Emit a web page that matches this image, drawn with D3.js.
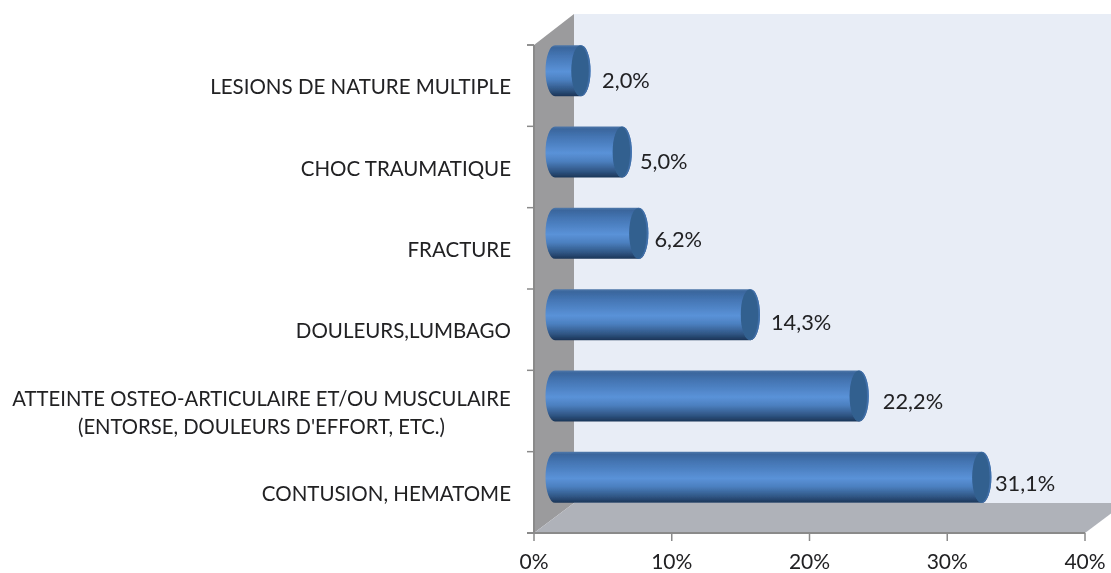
<!DOCTYPE html>
<html><head><meta charset="utf-8">
<script src="https://cdn.jsdelivr.net/npm/d3@7"></script>
<style>html,body{margin:0;background:#fff;overflow:hidden}svg{display:block}text{font-family:Lato,"Open Sans",sans-serif;fill:#202024}</style>
</head><body><svg id="c" width="1111" height="573"></svg>
<script>
const categories=["CONTUSION, HEMATOME","ATTEINTE OSTEO-ARTICULAIRE ET/OU MUSCULAIRE|(ENTORSE, DOULEURS D'EFFORT, ETC.)","DOULEURS,LUMBAGO","FRACTURE","CHOC TRAUMATIQUE","LESIONS DE NATURE MULTIPLE"];
const values=[31.1,22.2,14.3,6.2,5.0,2.0];
const labels=["31,1%","22,2%","14,3%","6,2%","5,0%","2,0%"];
const xTicks=[0,10,20,30,40];
const labelShiftX=[12.5,23,20,15,17,20.5];
const labelShiftY=[14,12.5,15,14,16.5,17];
const W=1111,H=573,dx=40,dy=30;
const x=d3.scaleLinear().domain([0,40]).range([534,1085]);
const y=d3.scaleBand().domain(categories).range([533,45]);
const svg=d3.select("#c");
const defs=svg.append("defs");
const g=defs.append("linearGradient").attr("id","bar").attr("x1",0).attr("x2",0).attr("y1",0).attr("y2",1);
[[0,"#4f78aa"],[.05,"#3a669d"],[.2,"#4475b3"],[.52,"#5a92d8"],[.68,"#4c80c0"],[.88,"#2f5583"],[1,"#1b3557"]].forEach(s=>g.append("stop").attr("offset",s[0]).attr("stop-color",s[1]));
const blur=defs.append("filter").attr("id","soft").attr("x","-5%").attr("y","-5%").attr("width","110%").attr("height","110%");
blur.append("feGaussianBlur").attr("stdDeviation",0.55);
const root=svg.append("g").attr("filter","url(#soft)");
const poly=p=>p.map(d=>d.join(",")).join(" ");
const x0=x(0),x1=x(40),yb=533,yt=45;
root.append("polygon").attr("points",poly([[x0+dx,yt-dy-1],[W+10,yt-dy-1],[W+10,yb-dy],[x0+dx,yb-dy]])).attr("fill","#e8edf6");
root.append("polygon").attr("points",poly([[x0,yt],[x0+dx,yt-dy-1],[x0+dx,yb-dy],[x0,yb]])).attr("fill","#9b9b9d");
root.append("polygon").attr("points",poly([[x0,yb],[x0+dx,yb-dy],[x1+dx,yb-dy],[x1,yb]])).attr("fill","#afb2b9");
const axisC="#8a8a8a";
root.append("line").attr("x1",x0).attr("x2",x0).attr("y1",yt).attr("y2",yb).attr("stroke",axisC).attr("stroke-width",2);
root.append("line").attr("x1",527).attr("x2",x1).attr("y1",yb).attr("y2",yb).attr("stroke",axisC).attr("stroke-width",2);
const edges=categories.map(k=>y(k)).concat([yt]);
root.selectAll(".yt").data(edges).join("line").attr("x1",527).attr("x2",x0).attr("y1",d=>d).attr("y2",d=>d).attr("stroke",axisC).attr("stroke-width",1.5);
root.selectAll(".xt").data(xTicks).join("line").attr("x1",d=>x(d)).attr("x2",d=>x(d)).attr("y1",yb).attr("y2",yb+8).attr("stroke",axisC).attr("stroke-width",1.5);
root.selectAll(".xl").data(xTicks).join("text").attr("x",d=>Math.min(x(d),1088)).attr("y",569).attr("text-anchor","middle").attr("font-size",21).text(d=>d+"%");
const bh=51,rx=9.5,rc=9.5;
const bars=root.selectAll(".b").data(categories).join("g");
bars.each(function(k,i){
  const s=d3.select(this),cy=y(k)+y.bandwidth()/2-dy/2,xe=x(values[i])+dx/2,x2=xe-.5,xs=x0+dx/2+1;
  const t=cy-bh/2,b=cy+bh/2;
  s.append("path").attr("d",`M${xs},${t}L${x2},${t}A${rc},${bh/2} 0 0 1 ${x2},${b}L${xs},${b}A${rx},${bh/2} 0 0 1 ${xs},${t}Z`).attr("fill","url(#bar)");
  s.append("ellipse").attr("cx",x2).attr("cy",cy).attr("rx",rc).attr("ry",bh/2).attr("fill","#406fa9");
  s.append("ellipse").attr("cx",x2-1).attr("cy",cy).attr("rx",rc-.8).attr("ry",bh/2-.3).attr("fill","#33608f");
  s.append("text").attr("x",xe+labelShiftX[i]).attr("y",cy+labelShiftY[i]).attr("font-size",21.8).text(labels[i]);
  const lines=k.split("|"),mid=y(k)+y.bandwidth()/2;
  if(lines.length>1) lines.forEach((l,j)=>s.append("text").attr("x",261.5).attr("y",mid-5+j*28).attr("text-anchor","middle").attr("font-size",20.25).text(l));
  else s.append("text").attr("x",511).attr("y",mid+8.5).attr("text-anchor","end").attr("font-size",20.5).text(k);
});
</script></body></html>
